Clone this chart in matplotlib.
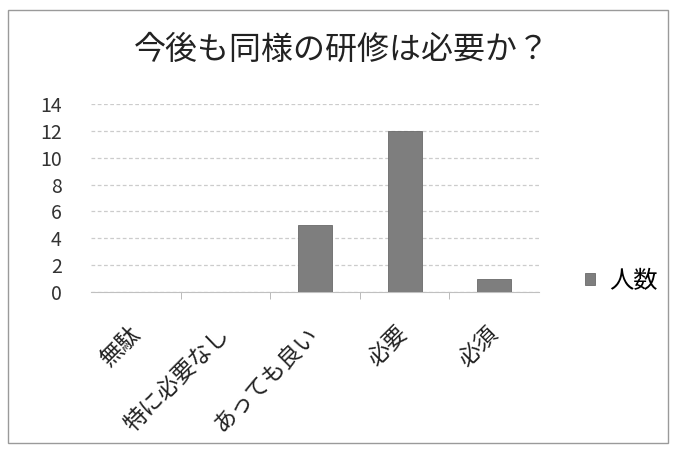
import matplotlib.pyplot as plt
from matplotlib.patches import Rectangle

plt.rcParams['font.family'] = ['Noto Sans CJK JP', 'DejaVu Sans']

categories = ['無駄', '特に必要なし', 'あっても良い', '必要', '必須']
counts = [0, 0, 5, 12, 1]
series_name = '人数'
yticks = [0, 2, 4, 6, 8, 10, 12, 14]

fig = plt.figure(figsize=(6.79, 4.74), dpi=100)
ax = fig.add_axes([91 / 679, 1 - 292 / 474, (539 - 91) / 679, (292 - 104) / 474])

ax.bar(range(len(categories)), counts, width=0.38, color='#7e7e7e',
       edgecolor='#6a6a6a', linewidth=0.6, label=series_name, zorder=3)

ax.set_xlim(-0.5, len(categories) - 0.5)
ax.set_ylim(0, 14)
ax.set_yticks(yticks)
ax.set_yticklabels([str(v) for v in yticks], fontsize=14, color='#333333')
ax.set_xticks(range(len(categories)))
ax.set_xticklabels(categories, rotation=45, ha='right', va='center',
                   rotation_mode='anchor', fontsize=16.5, color='#222222')
ax.tick_params(axis='y', length=0, pad=21)
ax.tick_params(axis='x', length=0, pad=28)

# small marks between categories on the x axis
ax.set_xticks([i + 0.5 for i in range(len(categories) - 1)], minor=True)
ax.tick_params(axis='x', which='minor', length=5, color='#b0b0b0', direction='out')

ax.yaxis.grid(True, color='#cccccc', linewidth=0.9, linestyle=(0, (3, 2)), zorder=0)
for side in ['top', 'right', 'left']:
    ax.spines[side].set_visible(False)
ax.spines['bottom'].set_color('#c0c0c0')

fig.text(342 / 679, 1 - 50 / 474, '今後も同様の研修は必要か？', ha='center', va='center',
         fontsize=23, color='#222222')

ax.legend(loc='center left', bbox_to_anchor=(563 / 679, 1 - 281 / 474),
          bbox_transform=fig.transFigure, frameon=False, fontsize=17.5,
          handlelength=0.4, handleheight=0.4, handletextpad=0.6)

# outer chart frame
fig.patches.append(Rectangle((8 / 679, 1 - 443 / 474), 660 / 679, 433 / 474,
                             transform=fig.transFigure, fill=False,
                             edgecolor='#9a9a9a', linewidth=1.0))

fig.savefig('out.png', dpi=100)
